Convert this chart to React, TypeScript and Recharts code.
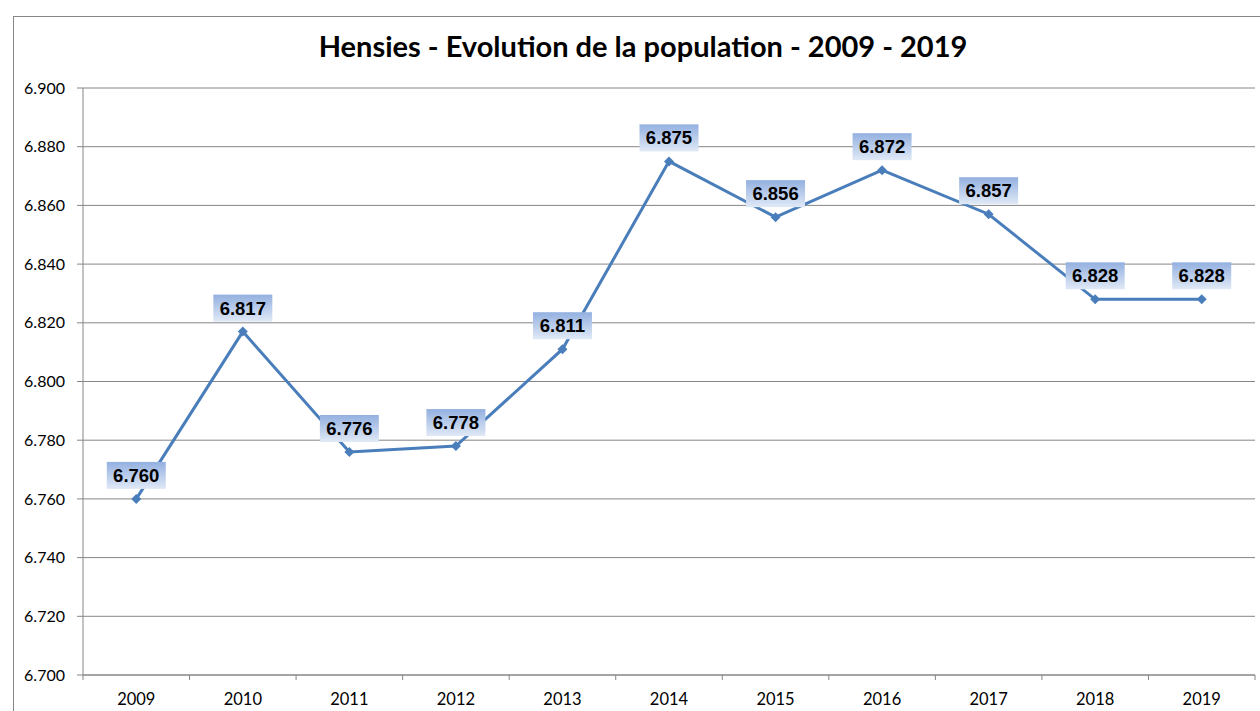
import { LineChart, Line, XAxis, YAxis, CartesianGrid, LabelList } from 'recharts'

const years = ['2009', '2010', '2011', '2012', '2013', '2014', '2015', '2016', '2017', '2018', '2019']
const population = [6760, 6817, 6776, 6778, 6811, 6875, 6856, 6872, 6857, 6828, 6828]
const yTicks = [6700, 6720, 6740, 6760, 6780, 6800, 6820, 6840, 6860, 6880, 6900]

const data = years.map((y, i) => ({ year: y, pop: population[i] }))

const W = 1260
const H = 711
const PLOT_LEFT = 83
const PLOT_RIGHT = 1255
const band = (PLOT_RIGHT - PLOT_LEFT) / years.length

// 6760 -> "6.760"
const fmt = (v: number) => (v / 1000).toFixed(3)

const XTick = (props: any) => {
  const { x, y, payload, index } = props
  return (
    <g>
      <line x1={x - band / 2} y1={y - 8} x2={x - band / 2} y2={y - 3} stroke="#868686" />
      {index === years.length - 1 && (
        <line x1={x + band / 2} y1={y - 8} x2={x + band / 2} y2={y - 3} stroke="#868686" />
      )}
      <text x={x} y={y + 22} textAnchor="middle" fontSize={16.5} fill="#000" fontFamily="Lato">
        {payload.value}
      </text>
    </g>
  )
}

const ValueLabel = (props: any) => {
  const { x, y, value } = props
  const w = 59
  const h = 27
  return (
    <g>
      <rect x={x - w / 2} y={y - 10 - h} width={w} height={h} fill="url(#lblGrad)" />
      <text
        x={x}
        y={y - 10 - h / 2 + 6.5}
        textAnchor="middle"
        fontSize={18.5}
        fontWeight="bold"
        fontFamily="Liberation Sans, Arial"
        fill="#000"
      >
        {fmt(value)}
      </text>
    </g>
  )
}

export default function App() {
  return (
    <div style={{ position: 'absolute', left: 0, top: 0, width: W, height: H, background: '#fff' }}>
      <svg width={W} height={H} style={{ position: 'absolute', left: 0, top: 0 }}>
        <rect x={13.5} y={16.5} width={W} height={H} fill="none" stroke="#868686" />
        <text
          x={643}
          y={57}
          textAnchor="middle"
          fontSize={29}
          fontWeight="bold"
          fontFamily="Lato"
          fill="#000"
        >
          Hensies - Evolution de la population - 2009 - 2019
        </text>
      </svg>
      <div style={{ position: 'absolute', left: 0, top: 0 }}>
        <LineChart width={W} height={H} data={data} margin={{ top: 88, right: W - PLOT_RIGHT, bottom: 0, left: 0 }}>
          <defs>
            <linearGradient id="lblGrad" x1="0" y1="0" x2="0" y2="1">
              <stop offset="0%" stopColor="#93b0e0" />
              <stop offset="100%" stopColor="#e0e9f6" />
            </linearGradient>
          </defs>
          <CartesianGrid vertical={false} stroke="#868686" strokeWidth={1} />
          <XAxis
            dataKey="year"
            height={36}
            axisLine={{ stroke: '#868686' }}
            tickLine={false}
            tick={<XTick />}
            interval={0}
            padding={{ left: band / 2, right: band / 2 }}
          />
          <YAxis
            width={PLOT_LEFT}
            domain={[6700, 6900]}
            ticks={yTicks}
            tickFormatter={fmt}
            axisLine={{ stroke: '#868686' }}
            tickLine={{ stroke: '#868686' }}
            tickSize={6}
            tickMargin={12}
            tick={{ fontSize: 16, fill: '#000', fontFamily: 'Lato' }}
            interval={0}
          />
          <Line
            dataKey="pop"
            stroke="#4a7ebb"
            strokeWidth={3}
            isAnimationActive={false}
            dot={(p: any) => (
              <path
                key={p.index}
                d={`M${p.cx},${p.cy - 5} L${p.cx + 5},${p.cy} L${p.cx},${p.cy + 5} L${p.cx - 5},${p.cy} Z`}
                fill="#4a7ebb"
              />
            )}
            activeDot={false}
          >
            <LabelList dataKey="pop" content={<ValueLabel />} />
          </Line>
        </LineChart>
      </div>
    </div>
  )
}
